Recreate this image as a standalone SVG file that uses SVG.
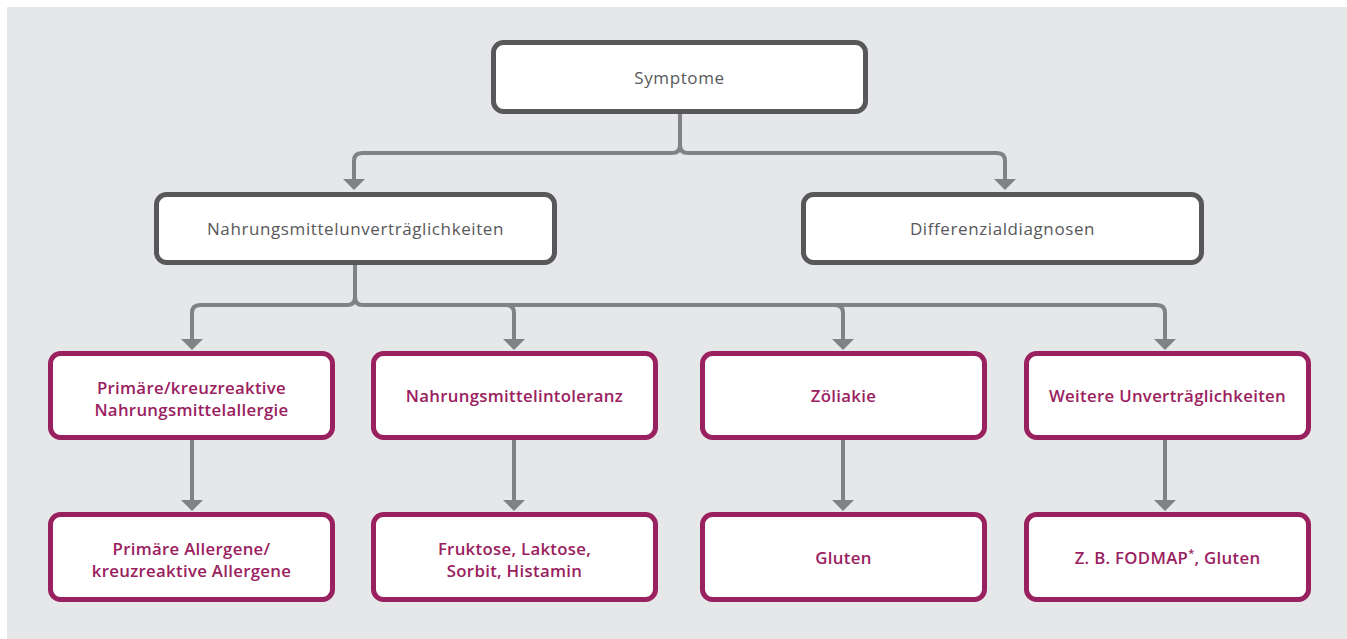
<svg xmlns="http://www.w3.org/2000/svg" width="1347" height="639" viewBox="0 0 1347 639">
<style>
.bg{fill:#e6e7e8}
.g{fill:#fff;stroke:#58585a;stroke-width:5}
.p{fill:#fff;stroke:#9a2160;stroke-width:5}
.tg{font-family:"Open Sans","Liberation Sans",sans-serif;font-size:17px;fill:#58585a;text-anchor:middle;letter-spacing:0.6px}
.tp{font-family:"Open Sans","Liberation Sans",sans-serif;font-size:16.8px;font-weight:600;fill:#9a2160;text-anchor:middle;letter-spacing:0.3px}
.c{fill:none;stroke:#808285;stroke-width:4;marker-end:url(#ah)}
</style>
<defs>
<marker id="ah" markerUnits="userSpaceOnUse" markerWidth="12" markerHeight="22" refX="2" refY="11" orient="auto" viewBox="0 0 12 22">
<path d="M0,0 L11,11 L0,22 Z" fill="#808285"/>
</marker>
</defs>
<rect class="bg" x="7" y="7" width="1340" height="632"/>
<g id="connectors">
<path class="c" d="M680,114 V145 Q680,153 672,153 H362 Q354,153 354,161 V181"/>
<path class="c" d="M680,145 Q680,153 688,153 H997 Q1005,153 1005,161 V181"/>
<path class="c" d="M355,265 V297 Q355,305 347,305 H200 Q192,305 192,313 V341"/>
<path class="c" d="M355,297 Q355,305 363,305 H1157 Q1165,305 1165,313 V341"/>
<path class="c" d="M506,305 Q514,305 514,313 V341"/>
<path class="c" d="M835,305 Q843,305 843,313 V341"/>
<path class="c" d="M192,440 V502"/>
<path class="c" d="M514,440 V502"/>
<path class="c" d="M843,440 V502"/>
<path class="c" d="M1165,440 V502"/>
</g>
<g id="symptome"><rect class="g" x="493.5" y="42.5" width="372" height="69" rx="10"/><text class="tg" x="679.5" y="84">Symptome</text></g>
<g id="nahrungsmittelunvertraeglichkeiten"><rect class="g" x="156.5" y="194.5" width="398" height="68" rx="10"/><text class="tg" x="355.5" y="234.5">Nahrungsmittelunverträglichkeiten</text></g>
<g id="differenzialdiagnosen"><rect class="g" x="803.5" y="194.5" width="398" height="68" rx="10"/><text class="tg" x="1002.5" y="234.5">Differenzialdiagnosen</text></g>
<g id="allergie"><rect class="p" x="50.5" y="353.5" width="282" height="84" rx="10"/><text class="tp" x="191.5" y="394">Primäre/kreuzreaktive</text><text class="tp" x="191.5" y="416">Nahrungsmittelallergie</text></g>
<g id="intoleranz"><rect class="p" x="373.5" y="353.5" width="282" height="84" rx="10"/><text class="tp" x="514.5" y="402">Nahrungsmittelintoleranz</text></g>
<g id="zoeliakie"><rect class="p" x="702.5" y="353.5" width="282" height="84" rx="10"/><text class="tp" x="843.5" y="402">Zöliakie</text></g>
<g id="weitere"><rect class="p" x="1026.5" y="353.5" width="282" height="84" rx="10"/><text class="tp" x="1167.5" y="402">Weitere Unverträglichkeiten</text></g>
<g id="allergene"><rect class="p" x="50.5" y="514.5" width="282" height="85" rx="10"/><text class="tp" x="191.5" y="555">Primäre Allergene/</text><text class="tp" x="191.5" y="577">kreuzreaktive Allergene</text></g>
<g id="fruktose"><rect class="p" x="373.5" y="514.5" width="282" height="85" rx="10"/><text class="tp" x="514.5" y="555">Fruktose, Laktose,</text><text class="tp" x="514.5" y="577">Sorbit, Histamin</text></g>
<g id="gluten"><rect class="p" x="702.5" y="514.5" width="282" height="85" rx="10"/><text class="tp" x="843.5" y="563.5">Gluten</text></g>
<g id="fodmap"><rect class="p" x="1026.5" y="514.5" width="282" height="85" rx="10"/><text class="tp" x="1167.5" y="563.5">Z. B. FODMAP<tspan font-size="11" dy="-7">*</tspan><tspan dy="7">, Gluten</tspan></text></g>
</svg>
